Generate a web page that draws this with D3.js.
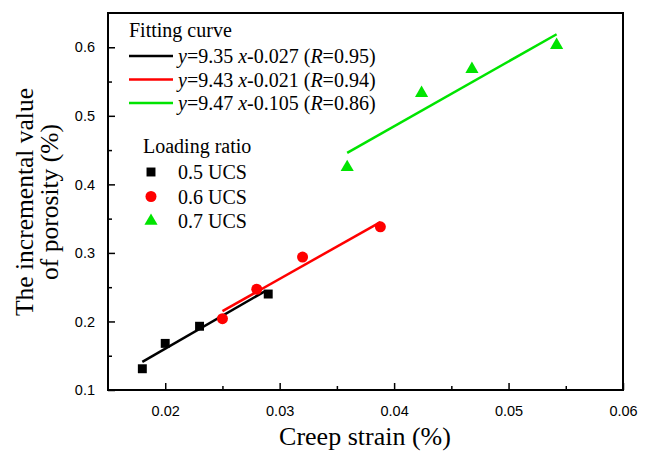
<!DOCTYPE html>
<html>
<head>
<meta charset="utf-8">
<script src="https://cdn.jsdelivr.net/npm/d3@7"></script>
<style>
  body { margin: 0; background: #fff; }
  .tick text { font-family: "Liberation Sans", Arial, sans-serif; font-size: 14.5px; }
</style>
</head>
<body>
<div id="chart"></div>
<script>
// data
const strain05 = [0.018, 0.020, 0.023, 0.029];
const poro05 = [0.131, 0.168, 0.193, 0.240];
const strain06 = [0.025, 0.028, 0.032, 0.0388];
const poro06 = [0.204, 0.247, 0.294, 0.338];
const strain07 = [0.0359, 0.0424, 0.0468, 0.0542];
const poro07 = [0.425, 0.533, 0.568, 0.603];

// fitted lines, end points as drawn
const fit05 = [[0.018, 0.141], [0.0287, 0.244]];
const fit06 = [[0.025, 0.215], [0.0388, 0.345]];
const fit07 = [[0.0359, 0.446], [0.0542, 0.619]];

const fitLabels = [
  ["9.35", "-0.027", "0.95"],
  ["9.43", "-0.021", "0.94"],
  ["9.47", "-0.105", "0.86"]
];
const loadLabels = ["0.5 UCS", "0.6 UCS", "0.7 UCS"];
const colors = ["#000000", "#ff0000", "#00e400"];

const xTicks = [0.02, 0.03, 0.04, 0.05, 0.06];
const yTicks = [0.1, 0.2, 0.3, 0.4, 0.5, 0.6];

const W = 648, H = 455;
const margin = {top: 13, right: 25, bottom: 65, left: 108};

const svg = d3.select("#chart").append("svg")
  .attr("width", W).attr("height", H);

const x = d3.scaleLinear().domain([0.015, 0.06]).range([margin.left, W - margin.right]);
const y = d3.scaleLinear().domain([0.1, 0.65]).range([H - margin.bottom, margin.top]);

// axes, ticks pointing inward
const xAxis = svg.append("g")
  .attr("transform", "translate(0," + (H - margin.bottom) + ")")
  .call(d3.axisBottom(x).tickValues(xTicks).tickSizeInner(-7).tickSizeOuter(0).tickPadding(16).tickFormat(d3.format(".2f")));
const xMinor = svg.append("g")
  .attr("transform", "translate(0," + (H - margin.bottom) + ")")
  .call(d3.axisBottom(x).tickValues([0.025, 0.035, 0.045, 0.055]).tickSize(-4).tickFormat(""));
const yAxis = svg.append("g")
  .attr("transform", "translate(" + margin.left + ",0)")
  .call(d3.axisLeft(y).tickValues(yTicks).tickSizeInner(-7).tickSizeOuter(0).tickPadding(13).tickFormat(d3.format(".1f")));
const yMinor = svg.append("g")
  .attr("transform", "translate(" + margin.left + ",0)")
  .call(d3.axisLeft(y).tickValues([0.15, 0.25, 0.35, 0.45, 0.55]).tickSize(-4).tickFormat(""));

[xAxis, xMinor, yAxis, yMinor].forEach(g => {
  g.select(".domain").remove();
  g.selectAll(".tick line").attr("stroke", "#000").attr("stroke-width", 1.5);
});

// frame box
svg.append("rect")
  .attr("x", margin.left).attr("y", margin.top)
  .attr("width", W - margin.left - margin.right)
  .attr("height", H - margin.top - margin.bottom)
  .attr("fill", "none").attr("stroke", "#000").attr("stroke-width", 2);

// fitted lines
const line = d3.line().x(d => x(d[0])).y(d => y(d[1]));
[fit05, fit06, fit07].forEach((f, i) => {
  svg.append("path").attr("d", line(f))
    .attr("fill", "none").attr("stroke", colors[i]).attr("stroke-width", 2.5);
});

// points
const sym = [d3.symbolSquare, d3.symbolCircle, d3.symbolTriangle];
const symSize = [80, 95, 75];
const series = [[strain05, poro05], [strain06, poro06], [strain07, poro07]];
series.forEach((s, i) => {
  svg.append("g").selectAll("path")
    .data(s[0].map((v, j) => [v, s[1][j]]))
    .enter().append("path")
    .attr("d", d3.symbol().type(sym[i]).size(symSize[i]))
    .attr("transform", d => "translate(" + x(d[0]) + "," + y(d[1]) + ")")
    .attr("fill", colors[i]);
});

// legend
const serif = "'Liberation Serif', 'Times New Roman', serif";
const leg = svg.append("g").style("font-family", serif).style("font-size", "20px");
leg.append("text").attr("x", 129).attr("y", 37).text("Fitting curve");
fitLabels.forEach((l, i) => {
  const yy = 56 + i * 23.5;
  leg.append("line").attr("x1", 129).attr("x2", 173).attr("y1", yy).attr("y2", yy)
    .attr("stroke", colors[i]).attr("stroke-width", 2.5);
  const t = leg.append("text").attr("x", 178).attr("y", yy + 7);
  t.append("tspan").attr("font-style", "italic").text("y");
  t.append("tspan").text("=" + l[0] + " ");
  t.append("tspan").attr("font-style", "italic").text("x");
  t.append("tspan").text(l[1] + " (");
  t.append("tspan").attr("font-style", "italic").text("R");
  t.append("tspan").text("=" + l[2] + ")");
});
leg.append("text").attr("x", 143).attr("y", 153).text("Loading ratio");
loadLabels.forEach((l, i) => {
  const yy = 172 + i * 24.5;
  leg.append("path")
    .attr("d", d3.symbol().type(sym[i]).size(symSize[i]))
    .attr("transform", "translate(151," + yy + ")")
    .attr("fill", colors[i]);
  leg.append("text").attr("x", 178).attr("y", yy + 7).text(l);
});

// axis titles
svg.append("text")
  .attr("x", 365).attr("y", 445)
  .attr("text-anchor", "middle")
  .style("font-family", serif).style("font-size", "26px")
  .text("Creep strain (%)");
const yt = svg.append("text")
  .attr("transform", "translate(33,202) rotate(-90)")
  .attr("text-anchor", "middle")
  .style("font-family", serif).style("font-size", "25.5px");
yt.append("tspan").attr("x", 0).attr("y", 0).text("The incremental value");
yt.append("tspan").attr("x", 0).attr("y", 25).text("of porosity (%)");
</script>
</body>
</html>
